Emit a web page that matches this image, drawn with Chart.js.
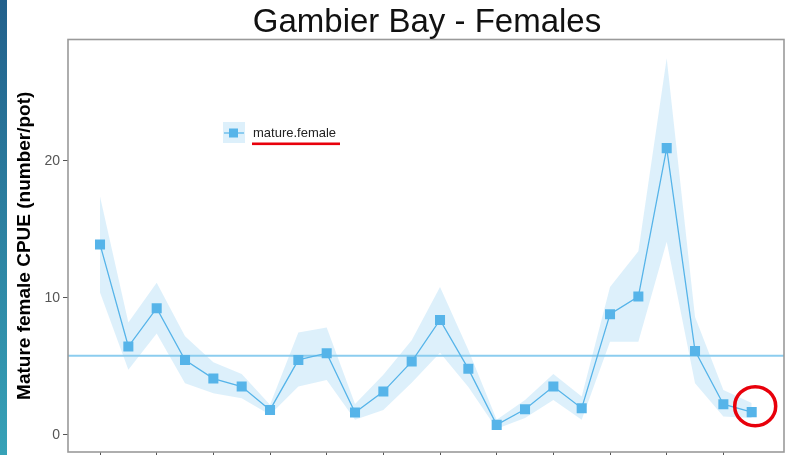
<!DOCTYPE html>
<html>
<head>
<meta charset="utf-8">
<script src="https://cdn.jsdelivr.net/npm/chart.js@4"></script>
<style>
  body { margin: 0; width: 788px; height: 455px; overflow: hidden; background: #fff; }
  #wrap { position: absolute; left: 0; top: 0; width: 788px; height: 470px; }
  #strip { position: absolute; left: 0; top: 0; width: 7px; height: 455px;
           background: linear-gradient(#22608b, #37a2b7); z-index: 2; }
</style>
</head>
<body>
<div id="strip"></div>
<div id="wrap"><canvas id="cpueChart"></canvas></div>
<script>
// data
const TITLE = "Gambier Bay - Females";
const years = [1997, 1998, 1999, 2000, 2001, 2002, 2003, 2004, 2005, 2006, 2007, 2008,
               2009, 2010, 2011, 2012, 2013, 2014, 2015, 2016, 2017, 2018, 2019, 2020];
const cpue  = [13.9, 6.45, 9.25, 5.47, 4.11, 3.53, 1.82, 5.47, 5.96, 1.63, 3.16, 5.35,
               8.39, 4.82, 0.73, 1.87, 3.53, 1.95, 8.81, 10.1, 20.93, 6.13, 2.24, 1.66];
const upper = [17.4, 8.2, 11.1, 7.2, 5.3, 4.45, 2.2, 7.47, 7.83, 2.26, 4.38, 6.9,
               10.8, 6.2, 1.1, 2.55, 4.45, 2.8, 10.8, 13.4, 27.5, 8.6, 3.28, 2.33];
const lower = [10.4, 4.75, 7.4, 3.77, 3.04, 2.68, 1.46, 3.53, 4.0, 1.1, 1.82, 3.8,
               6.0, 3.5, 0.44, 1.24, 2.55, 1.1, 6.8, 6.8, 14.1, 3.77, 1.34, 1.24];
const meanCpue = 5.78;
const xTicks = [1997, 1999, 2001, 2003, 2005, 2007, 2009, 2011, 2013, 2015, 2017, 2019];
const yTicks = [0, 10, 20];

const X_MIN = 1995.87, X_MAX = 2021.14;
const BLUE = "#56B4E9";
const RIBBON = "rgba(86,180,233,0.2)";
const FONT = "'Liberation Sans', Arial, sans-serif";

const pts = arr => years.map((y, i) => ({ x: y, y: arr[i] }));

// title, border, legend key and the red marks
const decorations = {
    id: "decorations",
    afterDraw(chart) {
        const ctx = chart.ctx;
        const a = chart.chartArea;
        ctx.save();

        // panel border
        ctx.strokeStyle = "#9a9a9a";
        ctx.lineWidth = 1.6;
        ctx.strokeRect(a.left, a.top, a.right - a.left, a.bottom - a.top);

        // title centred over the panel
        ctx.fillStyle = "#111";
        ctx.font = "33px " + FONT;
        ctx.textAlign = "center";
        ctx.textBaseline = "alphabetic";
        ctx.fillText(TITLE, (a.left + a.right) / 2 + 1, 32);

        // legend inside the panel
        const lx = a.left + 155, ly = a.top + 82.5;
        ctx.fillStyle = RIBBON;
        ctx.fillRect(lx, ly, 22, 21);
        ctx.strokeStyle = BLUE;
        ctx.lineWidth = 1.2;
        ctx.beginPath();
        ctx.moveTo(lx + 1, ly + 11); ctx.lineTo(lx + 21, ly + 11);
        ctx.stroke();
        ctx.fillStyle = BLUE;
        ctx.fillRect(lx + 6, ly + 6.5, 9, 9);
        ctx.fillStyle = "#222";
        ctx.font = "13px " + FONT;
        ctx.textAlign = "left";
        ctx.textBaseline = "middle";
        ctx.fillText(chart.data.datasets[0].label, lx + 30, ly + 11);

        // red underline under the legend text
        ctx.fillStyle = "#e8000b";
        ctx.fillRect(lx + 29, ly + 20.5, 88, 2.6);

        // red circle around the last point
        const meta = chart.getDatasetMeta(0);
        const last = meta.data[meta.data.length - 1];
        ctx.strokeStyle = "#e8000b";
        ctx.lineWidth = 3.5;
        ctx.beginPath();
        ctx.ellipse(last.x + 3.5, last.y - 6, 20.5, 19.5, 0, 0, Math.PI * 2);
        ctx.stroke();

        ctx.restore();
    }
};

new Chart(document.getElementById("cpueChart"), {
    type: "line",
    data: {
        datasets: [
            { label: "mature.female", data: pts(cpue), borderColor: BLUE, borderWidth: 1.3,
              pointStyle: "rect", pointRadius: 7.1, pointBorderWidth: 0,
              pointBackgroundColor: BLUE, tension: 0, order: 0 },
            { label: "mean", data: [{ x: X_MIN, y: meanCpue }, { x: X_MAX, y: meanCpue }],
              borderColor: "#8ccdef", borderWidth: 2, pointRadius: 0, order: 1 },
            { label: "upper", data: pts(upper), borderWidth: 0, pointRadius: 0,
              backgroundColor: RIBBON, fill: "+1", order: 2 },
            { label: "lower", data: pts(lower), borderWidth: 0, pointRadius: 0,
              fill: false, order: 3 }
        ]
    },
    options: {
        responsive: true,
        maintainAspectRatio: false,
        animation: false,
        layout: { autoPadding: false, padding: { top: 39.5, right: 4, left: 0, bottom: 0 } },
        plugins: { legend: { display: false }, title: { display: false }, tooltip: { enabled: false } },
        scales: {
            x: {
                type: "linear", min: X_MIN, max: X_MAX,
                afterBuildTicks: s => { s.ticks = xTicks.map(v => ({ value: v })); },
                afterFit: s => { s.height = 18; },
                ticks: { display: false },
                grid: { drawOnChartArea: false, drawTicks: true, tickLength: 5, tickColor: "#555" },
                border: { display: false }
            },
            y: {
                min: -1.25, max: 28.86,
                afterBuildTicks: s => { s.ticks = yTicks.map(v => ({ value: v })); },
                afterFit: s => { s.width = 68; },
                ticks: { color: "#555", padding: 3, font: { family: FONT, size: 14 } },
                grid: { drawOnChartArea: false, drawTicks: true, tickLength: 5, tickColor: "#555" },
                border: { display: false },
                title: { display: true, text: "Mature female CPUE (number/pot)", color: "#000",
                         font: { family: FONT, size: 19, weight: "bold" },
                         padding: { top: 13.6, bottom: 0 } }
            }
        }
    },
    plugins: [decorations]
});
</script>
</body>
</html>
